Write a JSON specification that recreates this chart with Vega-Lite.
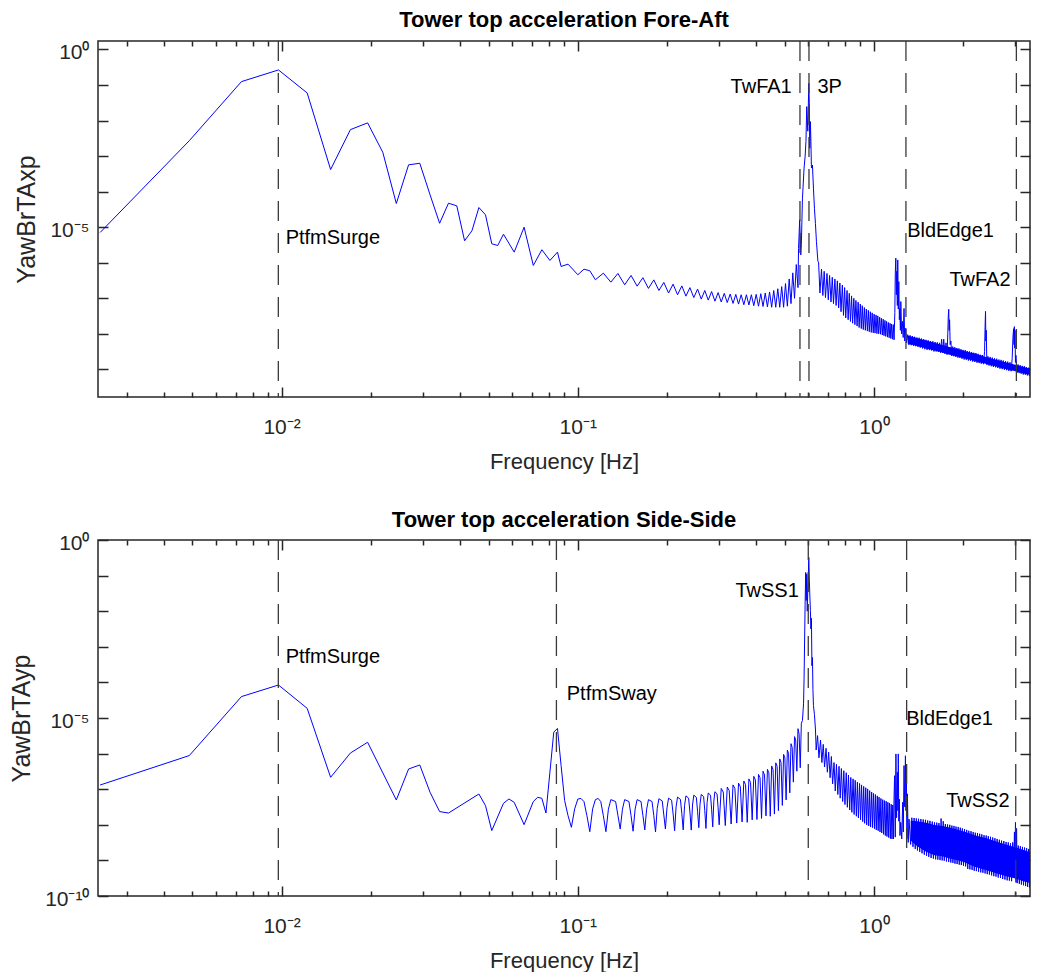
{
  "$schema": "https://vega.github.io/schema/vega-lite/v6.json",
  "background": "white",
  "padding": {"left": 8, "top": 8, "right": 8, "bottom": 0},
  "spacing": 35,
  "config": {
    "font": "Liberation Sans",
    "view": {"stroke": "#262626", "strokeWidth": 1.5},
    "axis": {"grid": false, "domain": false, "labelFont": "Liberation Sans", "titleFont": "Liberation Sans", "labelFontSize": 21, "titleFontSize": 22, "titleFontWeight": "normal", "labelColor": "#262626", "titleColor": "#262626", "tickColor": "#262626", "tickWidth": 1.5, "labelOverlap": false, "labelFlush": false},
    "title": {"font": "Liberation Sans", "fontSize": 22, "fontWeight": "bold", "color": "#000000", "anchor": "middle", "frame": "group", "offset": 8}
  },
  "datasets": {
    "fa": [
      {"f":0.00244,"v":7.1e-6},{"f":0.00488,"v":2.7e-3},{"f":0.00732,"v":1.24e-1},{"f":0.00976,"v":2.64e-1},{"f":0.0122,"v":5.96e-2},{"f":0.01464,"v":4.18e-4},{"f":0.01708,"v":5.55e-3},{"f":0.01952,"v":8.57e-3},{"f":0.02196,"v":1.28e-3},{"f":0.0244,"v":4.63e-5},
      {"f":0.02684,"v":5.66e-4},{"f":0.02928,"v":6.28e-4},{"f":0.03172,"v":8.13e-5},{"f":0.03416,"v":1.29e-5},{"f":0.0366,"v":4.72e-5},{"f":0.03904,"v":3.99e-5},{"f":0.04148,"v":4.15e-6},{"f":0.04392,"v":7.92e-6},{"f":0.04636,"v":3.57e-5},{"f":0.0488,"v":2.23e-5},
      {"f":0.05124,"v":3.42e-6},{"f":0.05368,"v":3.06e-6},{"f":0.05612,"v":6.35e-6},{"f":0.061,"v":1.99e-6},{"f":0.06588,"v":1.0e-5},{"f":0.07076,"v":8.4e-7},{"f":0.07564,"v":2.32e-6},{"f":0.08052,"v":1.16e-6},{"f":0.0854,"v":1.99e-6},{"f":0.08784,"v":7.87e-7},
      {"f":0.09272,"v":9.14e-7},{"f":0.10004,"v":4.6e-7},{"f":0.10492,"v":6.6e-7},{"f":0.1098,"v":5.96e-7},{"f":0.11468,"v":3.33e-7},{"f":0.122,"v":5.1e-7},{"f":0.12932,"v":2.85e-7},
      {"f":0.1366,"v":5.0e-7},{"f":0.144,"v":2.4e-7},{"f":0.1513,"v":4.4e-7},{"f":0.1586,"v":2.2e-7},{"f":0.1659,"v":3.8e-7},{"f":0.1732,"v":1.9e-7},{"f":0.1806,"v":3.3e-7},{"f":0.1879,"v":1.66e-7},{"f":0.1952,"v":2.8e-7},{"f":0.2025,"v":1.41e-7},
      {"f":0.2098,"v":2.5e-7},{"f":0.2172,"v":1.26e-7},{"f":0.2245,"v":2.24e-7},{"f":0.2318,"v":1.15e-7},{"f":0.2391,"v":2.0e-7},{"f":0.2464,"v":1.05e-7},{"f":0.2538,"v":1.82e-7},{"f":0.2611,"v":9.5e-8},{"f":0.2684,"v":1.66e-7},{"f":0.2757,"v":8.9e-8},
      {"f":0.283,"v":1.55e-7},{"f":0.2904,"v":8.3e-8},{"f":0.2977,"v":1.45e-7},{"f":0.305,"v":7.9e-8},{"f":0.3123,"v":1.38e-7},{"f":0.3196,"v":7.6e-8},{"f":0.327,"v":1.32e-7},{"f":0.3343,"v":7.2e-8},{"f":0.3416,"v":1.29e-7},{"f":0.3489,"v":6.9e-8},
      {"f":0.3562,"v":1.26e-7},{"f":0.3636,"v":6.6e-8},{"f":0.3709,"v":1.26e-7},{"f":0.3782,"v":6.5e-8},{"f":0.3855,"v":1.26e-7},{"f":0.3928,"v":6.2e-8},{"f":0.4002,"v":1.29e-7},{"f":0.4075,"v":6.0e-8},{"f":0.4148,"v":1.35e-7},{"f":0.4221,"v":5.9e-8},
      {"f":0.4294,"v":1.41e-7},{"f":0.4368,"v":5.75e-8},{"f":0.4441,"v":1.51e-7},{"f":0.4514,"v":5.6e-8},{"f":0.4587,"v":1.66e-7},{"f":0.466,"v":5.6e-8},{"f":0.4734,"v":1.86e-7},{"f":0.4807,"v":5.6e-8},{"f":0.488,"v":2.14e-7},{"f":0.4953,"v":5.6e-8},
      {"f":0.5026,"v":2.6e-7},{"f":0.51,"v":6.0e-8},{"f":0.5173,"v":3.5e-7},{"f":0.5246,"v":7.1e-8},{"f":0.5319,"v":5.2e-7},{"f":0.5392,"v":1.0e-7},{"f":0.5466,"v":8.9e-7},{"f":0.5539,"v":2.0e-7},
      {"f":0.5563,"v":2.5e-6},{"f":0.5612,"v":1.62e-5},{"f":0.5661,"v":1.66e-6},{"f":0.5685,"v":3.2e-6},{"f":0.5734,"v":6.3e-5},{"f":0.5807,"v":4.6e-4},{"f":0.5856,"v":1.0e-3},{"f":0.5893,"v":2.6e-3},{"f":0.5929,"v":2.45e-2},{"f":0.5978,"v":5.0e-3},
      {"f":0.6024,"v":0.111},{"f":0.6049,"v":0.0316},{"f":0.6069,"v":1.66e-3},{"f":0.61,"v":9.3e-3},{"f":0.6124,"v":2.5e-3},{"f":0.6149,"v":4.6e-4},{"f":0.6198,"v":5.6e-4},{"f":0.6246,"v":1.26e-4},{"f":0.6295,"v":3.4e-5},{"f":0.6344,"v":1.26e-5},
      {"f":0.6393,"v":4.0e-6},{"f":0.6466,"v":1.1e-6},
      {"f":0.65,"v":1.05e-6},{"f":0.657,"v":1.41e-7},{"f":0.665,"v":6.6e-7},{"f":0.672,"v":1.2e-7},{"f":0.679,"v":5.75e-7},{"f":0.686,"v":1.05e-7},{"f":0.694,"v":5.0e-7},{"f":0.701,"v":9.1e-8},{"f":0.708,"v":4.4e-7},{"f":0.716,"v":7.9e-8},
      {"f":0.723,"v":3.9e-7},{"f":0.73,"v":7.1e-8},{"f":0.738,"v":3.5e-7},{"f":0.745,"v":6.3e-8},{"f":0.752,"v":3.1e-7},{"f":0.76,"v":5.4e-8},{"f":0.767,"v":2.7e-7},{"f":0.774,"v":4.2e-8},{"f":0.782,"v":2.35e-7},{"f":0.789,"v":3.3e-8},
      {"f":0.796,"v":2.0e-7},{"f":0.803,"v":2.8e-8},{"f":0.811,"v":1.66e-7},{"f":0.818,"v":2.5e-8},{"f":0.825,"v":1.38e-7},{"f":0.833,"v":2.24e-8},{"f":0.84,"v":1.17e-7},{"f":0.847,"v":2.0e-8},{"f":0.855,"v":1.0e-7},{"f":0.862,"v":1.82e-8},
      {"f":0.869,"v":8.7e-8},{"f":0.877,"v":1.66e-8},{"f":0.884,"v":7.8e-8},{"f":0.891,"v":1.51e-8},{"f":0.899,"v":6.9e-8},{"f":0.906,"v":1.41e-8},{"f":0.913,"v":6.2e-8},{"f":0.92,"v":1.32e-8},{"f":0.928,"v":5.5e-8},{"f":0.935,"v":1.26e-8},
      {"f":0.942,"v":5.0e-8},{"f":0.95,"v":1.2e-8},{"f":0.957,"v":4.6e-8},{"f":0.964,"v":1.15e-8},{"f":0.972,"v":4.2e-8},{"f":0.979,"v":1.1e-8},{"f":0.986,"v":3.9e-8},{"f":0.994,"v":1.07e-8},{"f":1.001,"v":3.6e-8},{"f":1.008,"v":1.05e-8},
      {"f":1.016,"v":3.4e-8},{"f":1.023,"v":1.02e-8},{"f":1.03,"v":3.2e-8},{"f":1.037,"v":1.0e-8},{"f":1.045,"v":2.95e-8},{"f":1.052,"v":9.8e-9},{"f":1.059,"v":2.75e-8},{"f":1.067,"v":9.3e-9},{"f":1.074,"v":2.6e-8},{"f":1.081,"v":8.9e-9},
      {"f":1.089,"v":2.4e-8},{"f":1.096,"v":8.5e-9},{"f":1.103,"v":2.24e-8},{"f":1.111,"v":8.1e-9},{"f":1.118,"v":2.1e-8},{"f":1.125,"v":7.8e-9},{"f":1.133,"v":2.0e-8},{"f":1.14,"v":7.4e-9},{"f":1.147,"v":1.9e-8},{"f":1.155,"v":7.1e-9},
      {"f":1.162,"v":1.82e-8},{"f":1.169,"v":6.8e-9},
      {"f":1.176,"v":4.0e-8},{"f":1.18,"v":5.0e-7},{"f":1.185,"v":1.35e-6},{"f":1.19,"v":1.26e-7},{"f":1.194,"v":5.75e-7},{"f":1.199,"v":6.3e-8},{"f":1.203,"v":1.2e-6},{"f":1.208,"v":5.0e-8},{"f":1.213,"v":2.95e-7},{"f":1.218,"v":2.5e-8},
      {"f":1.222,"v":5.2e-8},{"f":1.228,"v":1.26e-8},{"f":1.232,"v":8.1e-8},{"f":1.24,"v":1.0e-8},{"f":1.248,"v":2.24e-8},{"f":1.255,"v":7.9e-9},{"f":1.263,"v":5.2e-8},{"f":1.27,"v":6.3e-9},{"f":1.28,"v":1.45e-8},{"f":1.288,"v":5.6e-9},
      {"f":1.3,"v":9.5e-9},{"f":1.312,"v":4.9e-9},{"f":1.324,"v":9.1e-9},{"f":1.336,"v":4.8e-9},{"f":1.348,"v":8.7e-9},{"f":1.36,"v":4.6e-9},{"f":1.372,"v":8.3e-9},{"f":1.384,"v":4.5e-9},{"f":1.396,"v":7.9e-9},{"f":1.408,"v":4.3e-9},
      {"f":1.42,"v":7.8e-9},{"f":1.433,"v":4.1e-9},{"f":1.446,"v":7.4e-9},{"f":1.459,"v":3.9e-9},{"f":1.472,"v":7.1e-9},{"f":1.485,"v":3.7e-9},{"f":1.498,"v":6.8e-9},{"f":1.511,"v":3.55e-9},{"f":1.524,"v":6.6e-9},{"f":1.538,"v":3.5e-9},
      {"f":1.552,"v":6.3e-9},{"f":1.566,"v":3.4e-9},{"f":1.58,"v":6.2e-9},{"f":1.594,"v":3.2e-9},{"f":1.608,"v":5.9e-9},{"f":1.622,"v":3.2e-9},{"f":1.636,"v":5.75e-9},{"f":1.65,"v":3.1e-9},{"f":1.664,"v":5.6e-9},{"f":1.678,"v":2.95e-9},
      {"f":1.692,"v":7.1e-9},{"f":1.706,"v":2.9e-9},{"f":1.72,"v":7.1e-9},{"f":1.735,"v":2.75e-9},{"f":1.75,"v":5.6e-9},{"f":1.765,"v":2.6e-9},{"f":1.775,"v":1.0e-8},{"f":1.782,"v":3.2e-8},{"f":1.788,"v":4.9e-8},{"f":1.794,"v":1.26e-8},
      {"f":1.8,"v":2.5e-8},{"f":1.808,"v":5.0e-9},{"f":1.818,"v":6.3e-9},{"f":1.83,"v":2.4e-9},{"f":1.845,"v":4.4e-9},{"f":1.86,"v":2.35e-9},{"f":1.875,"v":4.2e-9},{"f":1.89,"v":2.25e-9},{"f":1.905,"v":4.0e-9},{"f":1.92,"v":2.15e-9},
      {"f":1.935,"v":3.9e-9},{"f":1.95,"v":2.1e-9},{"f":1.966,"v":3.7e-9},{"f":1.982,"v":2.0e-9},{"f":1.998,"v":3.55e-9},{"f":2.015,"v":1.9e-9},{"f":2.032,"v":3.5e-9},{"f":2.049,"v":1.86e-9},{"f":2.066,"v":3.3e-9},{"f":2.083,"v":1.78e-9},
      {"f":2.1,"v":3.2e-9},{"f":2.118,"v":1.74e-9},{"f":2.136,"v":3.1e-9},{"f":2.154,"v":1.66e-9},{"f":2.172,"v":2.95e-9},{"f":2.19,"v":1.62e-9},{"f":2.208,"v":2.9e-9},{"f":2.227,"v":1.55e-9},{"f":2.246,"v":2.75e-9},{"f":2.265,"v":1.51e-9},
      {"f":2.284,"v":2.6e-9},{"f":2.303,"v":1.45e-9},{"f":2.322,"v":2.55e-9},{"f":2.342,"v":1.41e-9},{"f":2.362,"v":3.2e-9},{"f":2.372,"v":1.6e-8},{"f":2.38,"v":4.3e-8},{"f":2.386,"v":6.3e-9},{"f":2.394,"v":1.26e-8},{"f":2.405,"v":1.35e-9},
      {"f":2.425,"v":2.35e-9},{"f":2.446,"v":1.29e-9},{"f":2.467,"v":2.25e-9},{"f":2.488,"v":1.23e-9},{"f":2.509,"v":2.15e-9},{"f":2.53,"v":1.17e-9},{"f":2.552,"v":2.05e-9},{"f":2.574,"v":1.15e-9},{"f":2.596,"v":2.0e-9},{"f":2.618,"v":1.1e-9},
      {"f":2.64,"v":1.9e-9},{"f":2.663,"v":1.05e-9},{"f":2.686,"v":1.86e-9},{"f":2.709,"v":1.02e-9},{"f":2.732,"v":1.78e-9},{"f":2.756,"v":9.8e-10},{"f":2.78,"v":1.7e-9},{"f":2.804,"v":9.5e-10},{"f":2.828,"v":1.66e-9},{"f":2.853,"v":9.1e-10},
      {"f":2.878,"v":1.58e-9},{"f":2.903,"v":8.9e-10},{"f":2.928,"v":2.0e-9},{"f":2.945,"v":7.9e-9},{"f":2.96,"v":1.4e-8},{"f":2.97,"v":5.0e-9},{"f":2.978,"v":1.6e-8},{"f":2.986,"v":4.0e-9},{"f":2.994,"v":1.26e-8},{"f":3.003,"v":1.58e-9},
      {"f":3.015,"v":2.5e-9},{"f":3.04,"v":8.1e-10},{"f":3.065,"v":1.38e-9},{"f":3.09,"v":7.9e-10},{"f":3.115,"v":1.32e-9},{"f":3.14,"v":7.6e-10},{"f":3.166,"v":1.26e-9},{"f":3.192,"v":7.2e-10},{"f":3.218,"v":1.23e-9},{"f":3.244,"v":7.1e-10},
      {"f":3.27,"v":1.17e-9},{"f":3.296,"v":6.8e-10},{"f":3.322,"v":1.12e-9},{"f":3.348,"v":6.6e-10},{"f":3.363,"v":1.1e-9}
    ],
    "faBand": [
      {"f":1.3,"lo":5.3e-9,"hi":9.0e-9},{"f":1.4,"lo":4.6e-9,"hi":7.5e-9},{"f":1.5,"lo":3.9e-9,"hi":6.5e-9},{"f":1.6,"lo":3.4e-9,"hi":5.6e-9},{"f":1.7,"lo":3.0e-9,"hi":4.9e-9},
      {"f":1.8,"lo":2.6e-9,"hi":4.3e-9},{"f":1.9,"lo":2.35e-9,"hi":3.8e-9},{"f":2.0,"lo":2.1e-9,"hi":3.35e-9},{"f":2.2,"lo":1.7e-9,"hi":2.75e-9},{"f":2.4,"lo":1.42e-9,"hi":2.2e-9},
      {"f":2.6,"lo":1.2e-9,"hi":1.85e-9},{"f":2.8,"lo":1.02e-9,"hi":1.58e-9},{"f":3.0,"lo":8.9e-10,"hi":1.35e-9},{"f":3.2,"lo":7.7e-10,"hi":1.17e-9},{"f":3.363,"lo":7.0e-10,"hi":1.05e-9}
    ],
    "ss": [
      {"f":0.00244,"v":1.31e-7},{"f":0.00488,"v":8.8e-7},{"f":0.00732,"v":3.99e-5},{"f":0.00976,"v":8.45e-5},{"f":0.0122,"v":1.87e-5},{"f":0.01464,"v":2.16e-7},{"f":0.01708,"v":1.04e-6},{"f":0.01952,"v":2.08e-6},{"f":0.0244,"v":4.98e-8},{"f":0.02684,"v":3.69e-7},
      {"f":0.02928,"v":4.79e-7},{"f":0.03172,"v":8.18e-8},{"f":0.03416,"v":2.35e-8},{"f":0.0366,"v":2.14e-8},{"f":0.04636,"v":7.33e-8},{"f":0.0488,"v":3.46e-8},{"f":0.05124,"v":6.87e-9},{"f":0.05612,"v":4.02e-8},{"f":0.05856,"v":5.31e-8},{"f":0.061,"v":4.28e-8},
      {"f":0.06588,"v":1.01e-8},{"f":0.07076,"v":4.49e-8},{"f":0.0732,"v":5.92e-8},{"f":0.07564,"v":5.55e-8},{"f":0.07808,"v":2.14e-8},{"f":0.08052,"v":3.0e-7},{"f":0.08296,"v":4.0e-6},{"f":0.0854,"v":5.1e-6},{"f":0.08784,"v":4.6e-7},{"f":0.09028,"v":4.8e-8},
      {"f":0.09272,"v":1.8e-8},{"f":0.09516,"v":8.5e-9},{"f":0.0976,"v":2.8e-8},{"f":0.10004,"v":5.3e-8},{"f":0.10248,"v":5.5e-8},{"f":0.10492,"v":4.5e-8},{"f":0.10736,"v":1.8e-8},{"f":0.1098,"v":6.4e-9},{"f":0.11224,"v":2.8e-8},{"f":0.11468,"v":5.1e-8},
      {"f":0.11712,"v":5.5e-8},{"f":0.11956,"v":4.5e-8},{"f":0.122,"v":1.8e-8},
      {"f":0.12444,"v":6.4e-9},{"f":0.12688,"v":2.75e-8},{"f":0.12932,"v":5.1e-8},{"f":0.1342,"v":4.5e-8},{"f":0.13664,"v":1.82e-8},
      {"f":0.13908,"v":7.6e-9},{"f":0.14152,"v":2.75e-8},{"f":0.14396,"v":5.1e-8},{"f":0.14884,"v":4.5e-8},{"f":0.15128,"v":1.82e-8},
      {"f":0.15372,"v":6.6e-9},{"f":0.15616,"v":2.75e-8},{"f":0.1586,"v":5.1e-8},{"f":0.16348,"v":4.5e-8},{"f":0.16592,"v":1.82e-8},
      {"f":0.16836,"v":7.2e-9},{"f":0.1708,"v":2.75e-8},{"f":0.17324,"v":5.1e-8},{"f":0.17812,"v":4.5e-8},{"f":0.18056,"v":1.82e-8},
      {"f":0.183,"v":6.3e-9},{"f":0.18544,"v":2.9e-8},{"f":0.18788,"v":5.4e-8},{"f":0.19276,"v":4.7e-8},{"f":0.1952,"v":1.9e-8},
      {"f":0.19764,"v":7.6e-9},{"f":0.20008,"v":3.0e-8},{"f":0.20252,"v":5.6e-8},{"f":0.2074,"v":4.9e-8},{"f":0.20984,"v":2.0e-8},
      {"f":0.21228,"v":6.8e-9},{"f":0.21472,"v":3.2e-8},{"f":0.21716,"v":6.0e-8},{"f":0.22204,"v":5.2e-8},{"f":0.22448,"v":2.1e-8},
      {"f":0.22692,"v":7.2e-9},{"f":0.22936,"v":3.5e-8},{"f":0.2318,"v":6.5e-8},{"f":0.23668,"v":5.6e-8},{"f":0.23912,"v":2.3e-8},
      {"f":0.24156,"v":7.1e-9},{"f":0.244,"v":3.6e-8},{"f":0.24644,"v":6.8e-8},{"f":0.25132,"v":5.9e-8},{"f":0.25376,"v":2.4e-8},
      {"f":0.2562,"v":8.3e-9},{"f":0.25864,"v":3.8e-8},{"f":0.26108,"v":7.1e-8},{"f":0.26596,"v":6.2e-8},{"f":0.2684,"v":2.5e-8},
      {"f":0.27084,"v":7.9e-9},{"f":0.27328,"v":4.2e-8},{"f":0.27572,"v":7.8e-8},{"f":0.2806,"v":6.8e-8},{"f":0.28304,"v":2.75e-8},
      {"f":0.28548,"v":8.7e-9},{"f":0.28792,"v":4.6e-8},{"f":0.29036,"v":8.5e-8},{"f":0.29524,"v":7.4e-8},{"f":0.29768,"v":3.0e-8},
      {"f":0.30012,"v":1.0e-8},{"f":0.305,"v":1.05e-7},{"f":0.30988,"v":8.3e-8},
      {"f":0.31476,"v":9.5e-9},{"f":0.31964,"v":1.15e-7},{"f":0.32452,"v":9.1e-8},
      {"f":0.3294,"v":1.05e-8},{"f":0.33428,"v":1.32e-7},{"f":0.33916,"v":1.05e-7},
      {"f":0.34404,"v":1.12e-8},{"f":0.34892,"v":1.48e-7},{"f":0.3538,"v":1.17e-7},
      {"f":0.35868,"v":1.2e-8},{"f":0.36356,"v":1.7e-7},{"f":0.36844,"v":1.35e-7},
      {"f":0.37332,"v":1.17e-8},{"f":0.3782,"v":1.95e-7},{"f":0.38308,"v":1.55e-7},
      {"f":0.38796,"v":1.38e-8},{"f":0.39284,"v":2.3e-7},{"f":0.39772,"v":1.82e-7},
      {"f":0.4026,"v":1.41e-8},{"f":0.40748,"v":2.6e-7},{"f":0.41236,"v":2.1e-7},
      {"f":0.41724,"v":1.51e-8},{"f":0.42212,"v":3.2e-7},{"f":0.427,"v":2.5e-7},
      {"f":0.43188,"v":1.78e-8},{"f":0.43676,"v":3.6e-7},{"f":0.44164,"v":2.9e-7},
      {"f":0.44652,"v":1.74e-8},{"f":0.4514,"v":4.5e-7},{"f":0.45628,"v":3.5e-7},
      {"f":0.46116,"v":2.0e-8},{"f":0.46604,"v":5.5e-7},{"f":0.47092,"v":4.4e-7},
      {"f":0.4758,"v":2.5e-8},{"f":0.48068,"v":7.1e-7},{"f":0.48556,"v":5.6e-7},
      {"f":0.49044,"v":3.5e-8},{"f":0.49532,"v":9.5e-7},{"f":0.5002,"v":7.6e-7},
      {"f":0.50508,"v":5.0e-8},{"f":0.50996,"v":1.26e-6},{"f":0.51484,"v":1.0e-6},
      {"f":0.51972,"v":7.9e-8},{"f":0.5246,"v":1.9e-6},{"f":0.52948,"v":1.5e-6},
      {"f":0.53436,"v":1.58e-7},{"f":0.53924,"v":3.0e-6},{"f":0.54412,"v":2.4e-6},
      {"f":0.549,"v":3.2e-7},{"f":0.5539,"v":5.0e-6},{"f":0.5588,"v":3.5e-6},{"f":0.5637,"v":4.0e-7},{"f":0.5686,"v":7.1e-6},{"f":0.5734,"v":8.5e-6},{"f":0.5783,"v":2.5e-5},{"f":0.5807,"v":1.26e-4},{"f":0.5855,"v":1.58e-2},{"f":0.588,"v":0.123},
      {"f":0.5905,"v":0.02},{"f":0.5929,"v":0.112},{"f":0.5953,"v":0.01},{"f":0.5978,"v":0.04},{"f":0.6002,"v":0.1},{"f":0.6024,"v":0.324},{"f":0.6051,"v":0.071},{"f":0.6076,"v":0.025},{"f":0.61,"v":0.0105},{"f":0.6124,"v":3.2e-3},
      {"f":0.6149,"v":6.3e-3},{"f":0.6173,"v":2.95e-4},{"f":0.6198,"v":5.0e-4},{"f":0.6222,"v":6.3e-5},{"f":0.6246,"v":2.24e-5},{"f":0.6295,"v":1.26e-5},{"f":0.6344,"v":4.9e-6},{"f":0.638,"v":1.26e-6},
      {"f":0.645,"v":3.2e-6},{"f":0.652,"v":7.6e-7},{"f":0.66,"v":2.4e-6},{"f":0.667,"v":5.6e-7},{"f":0.674,"v":1.82e-6},{"f":0.681,"v":4.2e-7},{"f":0.689,"v":1.41e-6},{"f":0.696,"v":3.0e-7},{"f":0.703,"v":1.1e-6},{"f":0.711,"v":2.1e-7},
      {"f":0.718,"v":8.3e-7},{"f":0.725,"v":1.41e-7},{"f":0.733,"v":5.6e-7},{"f":0.74,"v":8.9e-8},{"f":0.747,"v":5.0e-7},{"f":0.755,"v":7.1e-8},{"f":0.762,"v":4.4e-7},{"f":0.769,"v":5.6e-8},{"f":0.776,"v":3.8e-7},{"f":0.784,"v":4.5e-8},
      {"f":0.791,"v":3.3e-7},{"f":0.798,"v":3.7e-8},{"f":0.806,"v":2.9e-7},{"f":0.813,"v":3.1e-8},{"f":0.82,"v":2.5e-7},{"f":0.828,"v":2.6e-8},{"f":0.835,"v":2.14e-7},{"f":0.842,"v":2.24e-8},{"f":0.85,"v":1.95e-7},{"f":0.857,"v":1.95e-8},
      {"f":0.864,"v":1.78e-7},{"f":0.872,"v":1.74e-8},{"f":0.879,"v":1.58e-7},{"f":0.886,"v":1.55e-8},{"f":0.894,"v":1.45e-7},{"f":0.901,"v":1.38e-8},{"f":0.908,"v":1.32e-7},{"f":0.916,"v":1.23e-8},{"f":0.923,"v":1.2e-7},{"f":0.93,"v":1.1e-8},
      {"f":0.938,"v":1.1e-7},{"f":0.945,"v":1.0e-8},{"f":0.952,"v":1.02e-7},{"f":0.96,"v":9.3e-9},{"f":0.967,"v":9.1e-8},{"f":0.974,"v":8.7e-9},{"f":0.982,"v":8.3e-8},{"f":0.989,"v":8.3e-9},{"f":0.996,"v":7.6e-8},{"f":1.004,"v":7.8e-9},
      {"f":1.011,"v":7.1e-8},{"f":1.018,"v":7.2e-9},{"f":1.026,"v":6.5e-8},{"f":1.033,"v":6.8e-9},{"f":1.04,"v":6.0e-8},{"f":1.048,"v":6.3e-9},{"f":1.055,"v":5.5e-8},{"f":1.062,"v":5.9e-9},{"f":1.07,"v":5.1e-8},{"f":1.077,"v":5.4e-9},
      {"f":1.084,"v":4.8e-8},{"f":1.092,"v":5.0e-9},{"f":1.099,"v":4.6e-8},{"f":1.106,"v":4.7e-9},{"f":1.114,"v":4.3e-8},{"f":1.121,"v":4.4e-9},{"f":1.128,"v":4.1e-8},{"f":1.136,"v":4.1e-9},{"f":1.143,"v":3.8e-8},{"f":1.15,"v":4.0e-9},
      {"f":1.157,"v":3.6e-8},{"f":1.163,"v":4.0e-9},{"f":1.169,"v":6.3e-8},{"f":1.174,"v":2.4e-7},{"f":1.18,"v":4.5e-9},{"f":1.186,"v":9.8e-7},{"f":1.192,"v":1.58e-8},{"f":1.199,"v":3.0e-7},{"f":1.204,"v":2.5e-8},{"f":1.208,"v":9.8e-7},
      {"f":1.213,"v":1.26e-8},{"f":1.218,"v":5.2e-8},{"f":1.224,"v":5.0e-9},{"f":1.231,"v":1.17e-8},{"f":1.241,"v":4.0e-9},{"f":1.25,"v":4.3e-8},{"f":1.256,"v":6.3e-9},{"f":1.263,"v":4.6e-7},{"f":1.27,"v":3.2e-8},{"f":1.277,"v":8.7e-7},
      {"f":1.282,"v":2.5e-8},{"f":1.286,"v":2.4e-7},{"f":1.292,"v":4.0e-9},{"f":1.297,"v":7.4e-8},{"f":1.305,"v":3.2e-9},{"f":1.313,"v":1.45e-8},
      {"f":1.33,"v":2.8e-9},{"f":1.342,"v":1.58e-8},{"f":1.354,"v":2.4e-9},{"f":1.366,"v":1.55e-8},{"f":1.378,"v":2.1e-9},{"f":1.39,"v":1.51e-8},{"f":1.402,"v":1.9e-9},{"f":1.414,"v":1.48e-8},{"f":1.427,"v":1.74e-9},{"f":1.44,"v":1.45e-8},
      {"f":1.453,"v":1.58e-9},{"f":1.466,"v":1.41e-8},{"f":1.479,"v":1.45e-9},{"f":1.492,"v":1.38e-8},{"f":1.505,"v":1.35e-9},{"f":1.518,"v":1.32e-8},{"f":1.531,"v":1.26e-9},{"f":1.545,"v":1.29e-8},{"f":1.559,"v":1.17e-9},{"f":1.573,"v":1.23e-8},
      {"f":1.587,"v":1.12e-9},{"f":1.601,"v":1.17e-8},{"f":1.615,"v":1.07e-9},{"f":1.629,"v":1.15e-8},{"f":1.643,"v":1.05e-9},{"f":1.657,"v":1.12e-8},{"f":1.671,"v":1.02e-9},{"f":1.685,"v":1.5e-8},{"f":1.699,"v":1.0e-9},{"f":1.713,"v":1.26e-8},
      {"f":1.727,"v":9.8e-10},{"f":1.742,"v":1.05e-8},{"f":1.757,"v":9.3e-10},{"f":1.772,"v":1.02e-8},{"f":1.787,"v":9.1e-10},{"f":1.802,"v":1.0e-8},{"f":1.817,"v":8.7e-10},{"f":1.832,"v":9.5e-9},{"f":1.847,"v":8.5e-10},{"f":1.862,"v":9.3e-9},
      {"f":1.877,"v":8.1e-10},{"f":1.892,"v":8.9e-9},{"f":1.908,"v":7.9e-10},{"f":1.924,"v":8.7e-9},{"f":1.94,"v":7.6e-10},{"f":1.956,"v":8.3e-9},{"f":1.972,"v":7.4e-10},{"f":1.988,"v":7.9e-9},{"f":2.005,"v":7.1e-10},{"f":2.022,"v":7.6e-9},
      {"f":2.039,"v":6.8e-10},{"f":2.056,"v":7.2e-9},{"f":2.073,"v":5.75e-10},{"f":2.09,"v":6.8e-9},{"f":2.108,"v":5.6e-10},{"f":2.126,"v":6.6e-9},{"f":2.144,"v":5.4e-10},{"f":2.162,"v":6.3e-9},{"f":2.18,"v":5.1e-10},{"f":2.198,"v":6.0e-9},
      {"f":2.217,"v":5.0e-10},{"f":2.236,"v":5.9e-9},{"f":2.255,"v":4.8e-10},{"f":2.274,"v":5.6e-9},{"f":2.293,"v":4.6e-10},{"f":2.312,"v":5.4e-9},{"f":2.332,"v":4.5e-10},{"f":2.352,"v":5.1e-9},{"f":2.372,"v":4.3e-10},{"f":2.392,"v":5.0e-9},
      {"f":2.412,"v":4.1e-10},{"f":2.432,"v":4.8e-9},{"f":2.453,"v":4.0e-10},{"f":2.474,"v":4.6e-9},{"f":2.495,"v":3.8e-10},{"f":2.516,"v":4.4e-9},{"f":2.538,"v":3.6e-10},{"f":2.56,"v":4.2e-9},{"f":2.582,"v":3.5e-10},{"f":2.604,"v":4.0e-9},
      {"f":2.627,"v":3.3e-10},{"f":2.65,"v":3.8e-9},{"f":2.673,"v":3.2e-10},{"f":2.696,"v":3.6e-9},{"f":2.72,"v":3.0e-10},{"f":2.744,"v":3.5e-9},{"f":2.768,"v":2.9e-10},{"f":2.792,"v":3.3e-9},{"f":2.816,"v":2.75e-10},{"f":2.84,"v":3.2e-9},
      {"f":2.865,"v":2.7e-10},{"f":2.89,"v":3.0e-9},{"f":2.915,"v":2.6e-10},{"f":2.94,"v":3.2e-9},{"f":2.96,"v":4.0e-10},{"f":2.98,"v":6.3e-9},{"f":2.992,"v":1.0e-9},{"f":3.004,"v":1.17e-8},{"f":3.016,"v":2.4e-10},{"f":3.03,"v":7.9e-9},
      {"f":3.045,"v":2.3e-10},{"f":3.07,"v":2.6e-9},{"f":3.095,"v":2.2e-10},{"f":3.12,"v":2.5e-9},{"f":3.146,"v":2.1e-10},{"f":3.172,"v":2.4e-9},{"f":3.198,"v":2.0e-10},{"f":3.224,"v":2.3e-9},{"f":3.25,"v":1.9e-10},{"f":3.276,"v":2.2e-9},
      {"f":3.302,"v":1.8e-10},{"f":3.328,"v":2.1e-9},{"f":3.354,"v":1.74e-10},{"f":3.363,"v":2.0e-9}
    ],
    "ssBand": [
      {"f":1.33,"lo":3.6e-9,"hi":1.3e-8},{"f":1.4,"lo":2.5e-9,"hi":1.25e-8},{"f":1.5,"lo":1.75e-9,"hi":1.14e-8},{"f":1.6,"lo":1.4e-9,"hi":9.8e-9},{"f":1.7,"lo":1.3e-9,"hi":9.2e-9},
      {"f":1.8,"lo":1.13e-9,"hi":8.4e-9},{"f":1.9,"lo":1.03e-9,"hi":7.4e-9},{"f":2.0,"lo":9.2e-10,"hi":6.6e-9},{"f":2.2,"lo":6.5e-10,"hi":5.0e-9},{"f":2.4,"lo":5.3e-10,"hi":4.2e-9},
      {"f":2.6,"lo":4.3e-10,"hi":3.35e-9},{"f":2.8,"lo":3.6e-10,"hi":2.75e-9},{"f":3.0,"lo":3.1e-10,"hi":2.35e-9},{"f":3.2,"lo":2.6e-10,"hi":1.95e-9},{"f":3.363,"lo":2.3e-10,"hi":1.7e-9}
    ],
    "faLines": [{"f":0.00975},{"f":0.5625},{"f":0.6033},{"f":1.282},{"f":3.025}],
    "ssLines": [{"f":0.00975},{"f":0.0847},{"f":0.6},{"f":1.289},{"f":3.01}],
    "faLabels": [
      {"name":"PtfmSurge","lf":0.01032,"lv":4.9e-6},
      {"name":"TwFA1","lf":0.328,"lv":0.089},
      {"name":"3P","lf":0.644,"lv":0.089},
      {"name":"BldEdge1","lf":1.294,"lv":7.6e-6},
      {"name":"TwFA2","lf":1.798,"lv":3.3e-7}
    ],
    "ssLabels": [
      {"name":"PtfmSurge","lf":0.01032,"lv":5.1e-4},
      {"name":"PtfmSway","lf":0.0918,"lv":4.7e-5},
      {"name":"TwSS1","lf":0.3406,"lv":0.038},
      {"name":"BldEdge1","lf":1.284,"lv":9.3e-6},
      {"name":"TwSS2","lf":1.753,"lv":4.8e-8}
    ]
  },
  "vconcat": [
    {
      "title": {"text": "Tower top acceleration Fore-Aft"},
      "width": 932, "height": 356,
      "layer": [
        {
          "data": {"name": "faBand"},
          "mark": {"type": "area", "color": "#0000ff", "opacity": 1, "clip": true},
          "encoding": {
            "x": {"field": "f", "type": "quantitative", "scale": {"type": "log", "domain": [0.0024, 3.363], "nice": false},
              "axis": {"orient": "bottom", "values": [0.003,0.004,0.005,0.006,0.007,0.008,0.009,0.01,0.02,0.03,0.04,0.05,0.06,0.07,0.08,0.09,0.1,0.2,0.3,0.4,0.5,0.6,0.7,0.8,0.9,1,2,3],
                "labelExpr": "datum.value == 0.01 ? '10⁻²' : datum.value == 0.1 ? '10⁻¹' : datum.value == 1 ? '10⁰' : ''",
                "tickSize": {"condition": {"test": "datum.value == 0.01 || datum.value == 0.1 || datum.value == 1", "value": -10}, "value": -5},
                "labelPadding": 29, "title": "Frequency [Hz]", "titlePadding": 9}},
            "y": {"field": "lo", "type": "quantitative", "scale": {"type": "log", "domain": [1.68e-10, 1.72], "nice": false},
              "axis": {"orient": "left", "values": [1e-9,1e-8,1e-7,1e-6,1e-5,1e-4,1e-3,1e-2,1e-1,1],
                "labelExpr": "datum.value == 1 ? '10⁰' : datum.value == 0.00001 ? '10⁻⁵' : ''",
                "tickSize": -10, "labelPadding": 19, "labelOffset": 3, "title": "YawBrTAxp", "titlePadding": 10, "titleFontSize": 25}},
            "y2": {"field": "hi"}
          }
        },
        {
          "data": {"name": "fa"},
          "mark": {"type": "line", "color": "#0000ff", "strokeWidth": 1, "clip": true},
          "encoding": {
            "x": {"field": "f", "type": "quantitative", "scale": {"type": "log", "domain": [0.0024, 3.363], "nice": false}, "axis": null},
            "y": {"field": "v", "type": "quantitative", "scale": {"type": "log", "domain": [1.68e-10, 1.72], "nice": false}, "axis": null}
          }
        },
        {
          "data": {"name": "faLines"},
          "mark": {"type": "rule", "color": "#3a3a3a", "strokeWidth": 1.3, "strokeDash": [20, 12]},
          "encoding": {
            "x": {"field": "f", "type": "quantitative", "scale": {"type": "log", "domain": [0.0024, 3.363], "nice": false},
              "axis": {"orient": "top", "values": [0.003,0.004,0.005,0.006,0.007,0.008,0.009,0.01,0.02,0.03,0.04,0.05,0.06,0.07,0.08,0.09,0.1,0.2,0.3,0.4,0.5,0.6,0.7,0.8,0.9,1,2,3],
                "labels": false, "title": null,
                "tickSize": {"condition": {"test": "datum.value == 0.01 || datum.value == 0.1 || datum.value == 1", "value": -10}, "value": -5}}}
          }
        },
        {
          "data": {"name": "faLabels"},
          "mark": {"type": "text", "align": "left", "baseline": "middle", "fontSize": 20, "font": "Liberation Sans", "color": "#000000"},
          "encoding": {
            "x": {"field": "lf", "type": "quantitative", "scale": {"type": "log", "domain": [0.0024, 3.363], "nice": false}, "axis": null},
            "y": {"field": "lv", "type": "quantitative", "scale": {"type": "log", "domain": [1.68e-10, 1.72], "nice": false},
              "axis": {"orient": "right", "values": [1e-9,1e-8,1e-7,1e-6,1e-5,1e-4,1e-3,1e-2,1e-1,1], "labels": false, "title": null, "tickSize": -10}},
            "text": {"field": "name"}
          }
        }
      ],
      "resolve": {"axis": {"x": "independent", "y": "independent"}}
    },
    {
      "title": {"text": "Tower top acceleration Side-Side", "offset": 0},
      "width": 932, "height": 356,
      "layer": [
        {
          "data": {"name": "ssBand"},
          "mark": {"type": "area", "color": "#0000ff", "opacity": 1, "clip": true},
          "encoding": {
            "x": {"field": "f", "type": "quantitative", "scale": {"type": "log", "domain": [0.0024, 3.363], "nice": false},
              "axis": {"orient": "bottom", "values": [0.003,0.004,0.005,0.006,0.007,0.008,0.009,0.01,0.02,0.03,0.04,0.05,0.06,0.07,0.08,0.09,0.1,0.2,0.3,0.4,0.5,0.6,0.7,0.8,0.9,1,2,3],
                "labelExpr": "datum.value == 0.01 ? '10⁻²' : datum.value == 0.1 ? '10⁻¹' : datum.value == 1 ? '10⁰' : ''",
                "tickSize": {"condition": {"test": "datum.value == 0.01 || datum.value == 0.1 || datum.value == 1", "value": -10}, "value": -5},
                "labelPadding": 29, "title": "Frequency [Hz]", "titlePadding": 9}},
            "y": {"field": "lo", "type": "quantitative", "scale": {"type": "log", "domain": [1e-10, 1], "nice": false},
              "axis": {"orient": "left", "values": [1e-10,1e-9,1e-8,1e-7,1e-6,1e-5,1e-4,1e-3,1e-2,1e-1,1],
                "labelExpr": "datum.value == 1 ? '10⁰' : datum.value == 0.00001 ? '10⁻⁵' : datum.value == 1e-10 ? '10⁻¹⁰' : ''",
                "tickSize": -10, "labelPadding": 19, "labelOffset": 3, "title": "YawBrTAyp", "titlePadding": 10, "titleFontSize": 25}},
            "y2": {"field": "hi"}
          }
        },
        {
          "data": {"name": "ss"},
          "mark": {"type": "line", "color": "#0000ff", "strokeWidth": 1, "clip": true},
          "encoding": {
            "x": {"field": "f", "type": "quantitative", "scale": {"type": "log", "domain": [0.0024, 3.363], "nice": false}, "axis": null},
            "y": {"field": "v", "type": "quantitative", "scale": {"type": "log", "domain": [1e-10, 1], "nice": false}, "axis": null}
          }
        },
        {
          "data": {"name": "ssLines"},
          "mark": {"type": "rule", "color": "#3a3a3a", "strokeWidth": 1.3, "strokeDash": [20, 12]},
          "encoding": {
            "x": {"field": "f", "type": "quantitative", "scale": {"type": "log", "domain": [0.0024, 3.363], "nice": false},
              "axis": {"orient": "top", "values": [0.003,0.004,0.005,0.006,0.007,0.008,0.009,0.01,0.02,0.03,0.04,0.05,0.06,0.07,0.08,0.09,0.1,0.2,0.3,0.4,0.5,0.6,0.7,0.8,0.9,1,2,3],
                "labels": false, "title": null,
                "tickSize": {"condition": {"test": "datum.value == 0.01 || datum.value == 0.1 || datum.value == 1", "value": -10}, "value": -5}}}
          }
        },
        {
          "data": {"name": "ssLabels"},
          "mark": {"type": "text", "align": "left", "baseline": "middle", "fontSize": 20, "font": "Liberation Sans", "color": "#000000"},
          "encoding": {
            "x": {"field": "lf", "type": "quantitative", "scale": {"type": "log", "domain": [0.0024, 3.363], "nice": false}, "axis": null},
            "y": {"field": "lv", "type": "quantitative", "scale": {"type": "log", "domain": [1e-10, 1], "nice": false},
              "axis": {"orient": "right", "values": [1e-10,1e-9,1e-8,1e-7,1e-6,1e-5,1e-4,1e-3,1e-2,1e-1,1], "labels": false, "title": null, "tickSize": -10}},
            "text": {"field": "name"}
          }
        }
      ],
      "resolve": {"axis": {"x": "independent", "y": "independent"}}
    }
  ]
}
